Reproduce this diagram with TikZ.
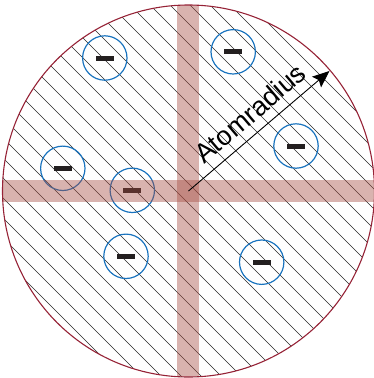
\documentclass[tikz,border=0pt]{standalone}
\usepackage{fontspec}
\newfontfamily\labfont{Liberation Sans}
\usetikzlibrary{arrows.meta}
\definecolor{rimred}{RGB}{150,35,55}
\definecolor{eblue}{RGB}{25,115,190}
\definecolor{barcol}{RGB}{165,75,65}
\definecolor{hatchcol}{RGB}{40,40,40}
\definecolor{minuscol}{RGB}{35,31,32}
\tikzset{
  hatchline/.style={draw=hatchcol, line width=0.7pt},
  electron/.style={circle, draw=eblue, line width=1.2pt, minimum size=44.4pt, inner sep=0pt},
  minusbar/.style={rectangle, fill=minuscol, minimum width=18pt, minimum height=5pt, inner sep=0pt},
  crossbar/.style={fill=barcol, fill opacity=0.42, draw=none},
  rim/.style={draw=rimred, line width=1.1pt},
  radiusarrow/.style={draw=black, line width=0.9pt, -{Stealth[length=17pt,width=14pt,inset=3pt]}},
}
\begin{document}
\begin{tikzpicture}[x=1pt,y=-1pt]
\useasboundingbox (0,0) rectangle (374,378);
\coordinate (c) at (188.5,191);
\coordinate (tip) at (329.5,71);
% hatching
\begin{scope}
  \clip (c) circle[radius=186];
  \foreach \k in {-375,-355,...,365} {
    \draw[hatchline] (\k,0) -- ({\k+378},378);
  }
\end{scope}
% electrons
\foreach \n/\x/\y in {1/104.8/58, 2/233.2/51.8, 3/296/146, 4/62.8/168.3, 5/132.3/190.3, 6/126/256.3, 7/261.7/262.2} {
  \node[electron] (e\n) at (\x,\y) {};
  \node[minusbar] (m\n) at (e\n.center) {};
}
% cross bars
\begin{scope}
  \clip (c) circle[radius=186];
  \path[crossbar] (177,0) rectangle (199,378);
  \path[crossbar] (0,180) rectangle (374,202);
\end{scope}
% rim
\draw[rim] (c) circle[radius=186];
% radius arrow
\draw[radiusarrow] (c) -- (tip)
  node[pos=0.525, sloped, above=9pt, inner sep=0pt, font=\labfont\fontsize{27}{31}\selectfont] (lab) {Atomradius};
\end{tikzpicture}
\end{document}
